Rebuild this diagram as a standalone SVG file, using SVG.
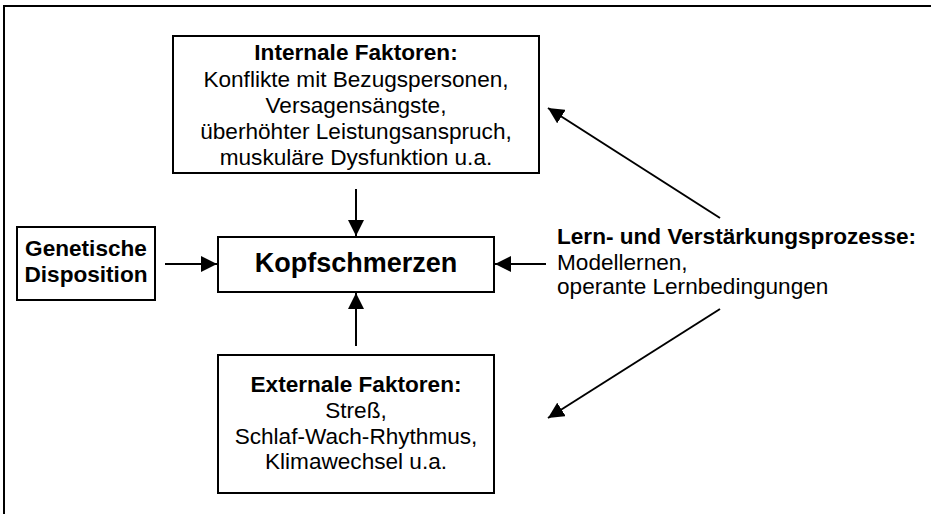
<svg xmlns="http://www.w3.org/2000/svg" width="931" height="514" viewBox="0 0 931 514">
<style>
.box{fill:#fff;stroke:#000;stroke-width:2}
.t{font-family:"Liberation Sans",Arial,sans-serif;font-size:22.6px;fill:#000}
.b{font-weight:bold}
.c{text-anchor:middle}
.ln{stroke:#000;stroke-width:2;fill:none}
</style>
<defs>
<marker id="ah" markerUnits="userSpaceOnUse" markerWidth="16" markerHeight="16" viewBox="0 0 16 16" refX="16" refY="8" orient="auto">
<path d="M0,0 L16,8 L0,16 Z" fill="#000"/>
</marker>
</defs>
<rect width="931" height="514" fill="#fff"/>
<path class="ln" d="M4,514 V6 H931"/>
<g id="internal">
<rect class="box" x="173" y="36" width="366" height="137"/>
<text class="t b c" x="356" y="60">Internale Faktoren:</text>
<text class="t c" x="356" y="86.5">Konflikte mit Bezugspersonen,</text>
<text class="t c" x="356" y="113">Versagensängste,</text>
<text class="t c" x="356" y="139">überhöhter Leistungsanspruch,</text>
<text class="t c" x="356" y="165">muskuläre Dysfunktion u.a.</text>
</g>
<g id="genetic">
<rect class="box" x="17" y="227" width="138" height="73"/>
<text class="t b c" x="86" y="256">Genetische</text>
<text class="t b c" x="86" y="282">Disposition</text>
</g>
<g id="kopfschmerzen">
<rect class="box" x="218" y="237" width="276" height="55"/>
<text class="t b c" x="356" y="272" style="font-size:27px">Kopfschmerzen</text>
</g>
<g id="external">
<rect class="box" x="218" y="355" width="276" height="138"/>
<text class="t b c" x="356" y="392">Externale Faktoren:</text>
<text class="t c" x="356" y="418">Streß,</text>
<text class="t c" x="356" y="444">Schlaf-Wach-Rhythmus,</text>
<text class="t c" x="356" y="469">Klimawechsel u.a.</text>
</g>
<g id="learning">
<text class="t b" x="557" y="244">Lern- und Verstärkungsprozesse:</text>
<text class="t" x="557" y="270">Modellernen,</text>
<text class="t" x="557" y="294">operante Lernbedingungen</text>
</g>
<g id="connectors">
<line class="ln" x1="356" y1="189" x2="356" y2="236" marker-end="url(#ah)"/>
<line class="ln" x1="356" y1="346" x2="356" y2="293" marker-end="url(#ah)"/>
<line class="ln" x1="165" y1="264" x2="217" y2="264" marker-end="url(#ah)"/>
<line class="ln" x1="546" y1="264" x2="495" y2="264" marker-end="url(#ah)"/>
<line class="ln" x1="720" y1="218" x2="548" y2="108" marker-end="url(#ah)"/>
<line class="ln" x1="720" y1="309" x2="548" y2="418" marker-end="url(#ah)"/>
</g>
</svg>
